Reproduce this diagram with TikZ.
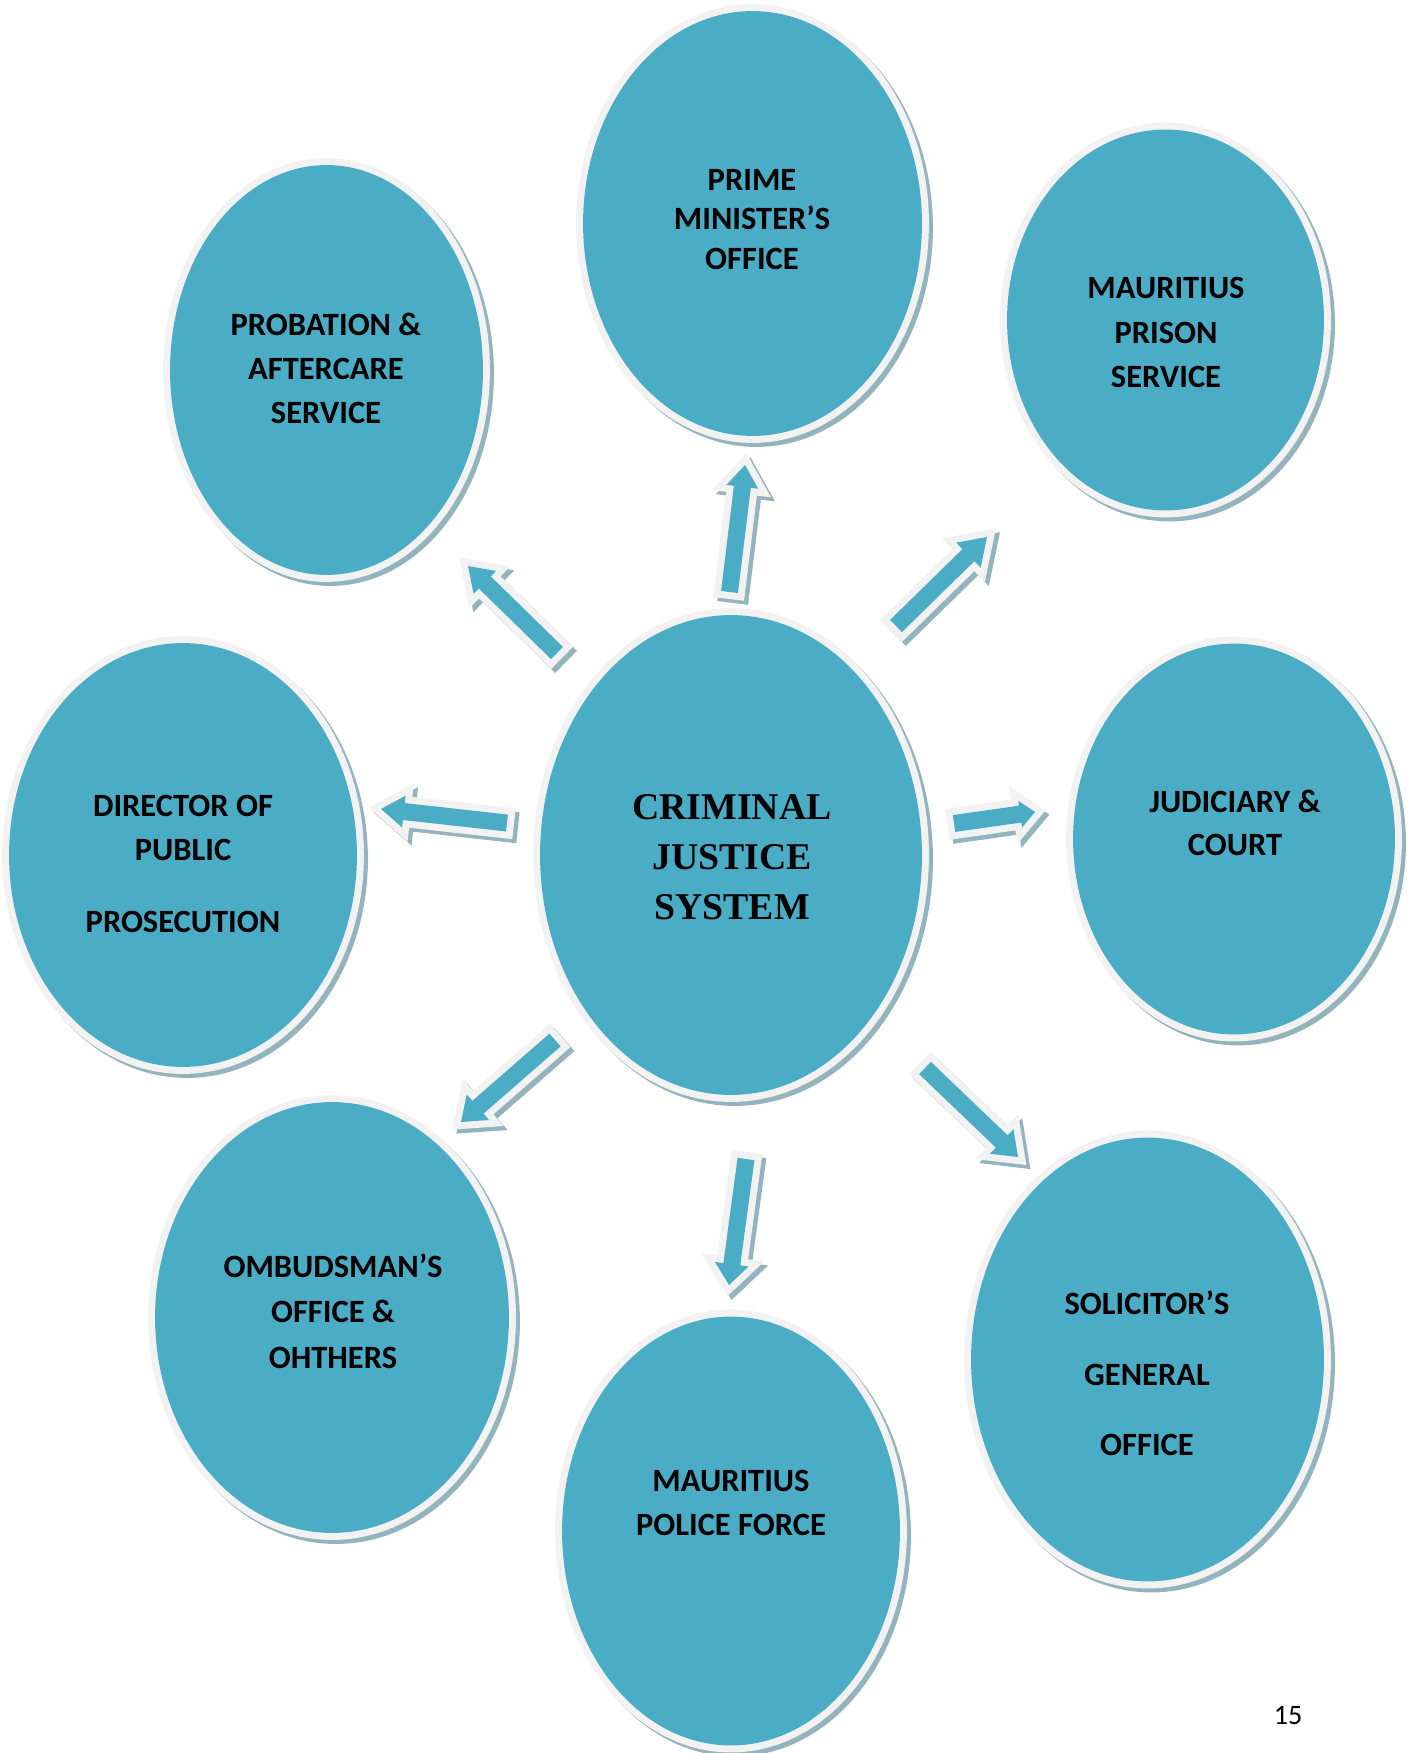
\documentclass[tikz,border=0pt]{standalone}
\usepackage{fontspec}
\setmainfont{Carlito}
\newfontfamily\titlefont{Liberation Serif}
\usetikzlibrary{shapes.geometric,calc}

\definecolor{agencyblue}{HTML}{4BACC6}
\definecolor{rimgray}{HTML}{F2F2F2}
\definecolor{shadowgray}{HTML}{93B3BD}

\tikzset{
  rimmed/.style={fill=agencyblue, line join=miter,
    preaction={draw=shadowgray, line width=0.28cm, transform canvas={xshift=0.08cm,yshift=-0.08cm}},
    preaction={draw=rimgray, line width=0.28cm}},
  agency/.style 2 args={ellipse, rimmed, inner sep=0pt, minimum width=#1*0.04cm, minimum height=#2*0.04cm},
  agencytext/.style={align=center, font=\fontsize{18.5}{#1}\selectfont\bfseries},
}

% block arrow: tail, tip, name, head half width, head length
\newcommand{\blockarrow}[5]{%
  \path ($(#2)!#5!(#1)$) coordinate (#3 base);
  \path[rimmed] ($(#1)!0.17cm!90:(#2)$) -- ($(#3 base)!0.17cm!90:(#2)$) -- ($(#3 base)!#4!90:(#2)$) -- (#2)
    -- ($(#3 base)!#4!-90:(#2)$) -- ($(#3 base)!0.17cm!-90:(#2)$) -- ($(#1)!0.17cm!-90:(#2)$) -- cycle;
}

\begin{document}
\begin{tikzpicture}[x=0.02cm, y=-0.02cm]
    \useasboundingbox (0,0) rectangle (1407,1753);

    % Agencies
    \node[agency={169.5}{212.5}] (pmo) at (752.5,223.5) {};
    \node[agency={156.5}{205}] (pbs) at (326.5,370) {};
    \node[agency={158.5}{190.5}] (prison) at (1165.5,320) {};
    \node[agency={174}{212}] (dpp) at (183,855) {};
    \node[agency={191}{240}] (cjs) at (731,855) {};
    \node[agency={161}{195.5}] (court) at (1234,839) {};
    \node[agency={177}{215.5}] (ombud) at (332,1317.5) {};
    \node[agency={169}{214.5}] (police) at (731,1531) {};
    \node[agency={176.5}{222}] (sgo) at (1147.5,1359.5) {};

    % Labels
    \node[agencytext=22.6] (pmo text) at (752,219.5) {PRIME\\MINISTER’S\\OFFICE};
    \node[agencytext=25] (pbs text) at (326,368) {PROBATION \&\\AFTERCARE\\SERVICE};
    \node[agencytext=25.5] (prison text) at (1166,332.5) {MAURITIUS\\PRISON\\SERVICE};
    \node[agencytext=25] (dpp text) at (183,864) {DIRECTOR OF\\PUBLIC\\[0.56cm]PROSECUTION};
    \node[align=center, font=\titlefont\fontsize{21.5}{28.5}\selectfont\bfseries] (cjs text) at (732,857) {CRIMINAL\\JUSTICE\\SYSTEM};
    \node[agencytext=24.5] (court text) at (1235,823) {JUDICIARY \&\\COURT};
    \node[agencytext=26] (ombud text) at (333,1311) {OMBUDSMAN’S\\OFFICE \&\\OHTHERS};
    \node[agencytext=25] (police text) at (731,1503) {MAURITIUS\\POLICE FORCE};
    \node[agencytext=40] (sgo text) at (1147,1373.5) {SOLICITOR’S\\GENERAL\\OFFICE};

    % Arrows out of the centre
    \coordinate (tail pbs) at (557,653);      \coordinate (tip pbs) at (468,566);
    \coordinate (tail pmo) at (729.5,592);    \coordinate (tip pmo) at (745,465);
    \coordinate (tail prison) at (896,626);   \coordinate (tip prison) at (987,537);
    \coordinate (tail dpp) at (507,823);      \coordinate (tip dpp) at (381,809);
    \coordinate (tail court) at (954,823.5);  \coordinate (tip court) at (1035,812);
    \coordinate (tail ombud) at (555,1040);   \coordinate (tip ombud) at (461,1122);
    \coordinate (tail police) at (746,1159);  \coordinate (tip police) at (729,1285);
    \coordinate (tail sgo) at (925,1068);     \coordinate (tip sgo) at (1018,1157);

    \blockarrow{tail pbs}{tip pbs}{arrow pbs}{0.32cm}{0.47cm}
    \blockarrow{tail pmo}{tip pmo}{arrow pmo}{0.32cm}{0.44cm}
    \blockarrow{tail prison}{tip prison}{arrow prison}{0.35cm}{0.52cm}
    \blockarrow{tail dpp}{tip dpp}{arrow dpp}{0.32cm}{0.46cm}
    \blockarrow{tail court}{tip court}{arrow court}{0.27cm}{0.3cm}
    \blockarrow{tail ombud}{tip ombud}{arrow ombud}{0.34cm}{0.45cm}
    \blockarrow{tail police}{tip police}{arrow police}{0.34cm}{0.42cm}
    \blockarrow{tail sgo}{tip sgo}{arrow sgo}{0.34cm}{0.45cm}

    % Page number
    \node[font=\fontsize{16}{19}\selectfont] (page no) at (1288,1716) {15};
\end{tikzpicture}
\end{document}
